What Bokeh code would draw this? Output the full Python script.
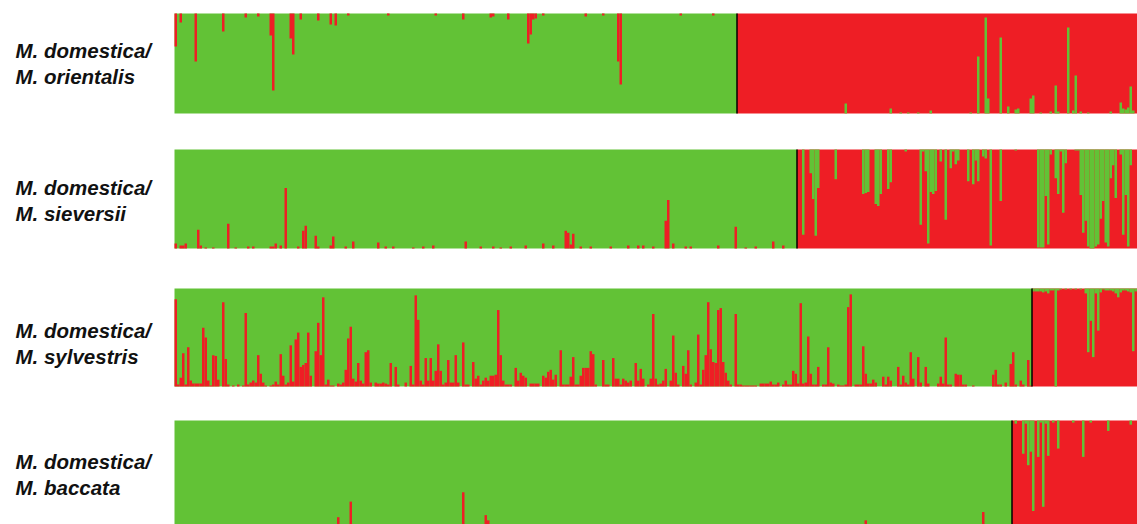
from bokeh.plotting import figure
from bokeh.models import Range1d
from bokeh.core.properties import value
from bokeh.embed import file_html
from bokeh.resources import INLINE

# ---------------- data (STRUCTURE K=2 memberships) ----------------
n_individuals = 385
pair_labels = [
    ("M. domestica/", "M. orientalis"),
    ("M. domestica/", "M. sieversii"),
    ("M. domestica/", "M. sylvestris"),
    ("M. domestica/", "M. baccata"),
]
# number of individuals assigned to the green (domestica) cluster, sorted first
cluster_split = [225, 249, 343, 335]

# admixed individuals: (index, fraction of the minority colour)
p1_green_side = [(0, .33), (2, .09), (8, .48), (19, .18), (28, .04), (33, .03), (38, .22), (39, .77),
                 (46, .25), (47, .41), (50, .06), (57, .07), (62, .11), (64, .12), (69, .02), (85, .02),
                 (104, .02), (115, .06), (126, .04), (127, .03), (133, .06), (141, .30), (142, .21),
                 (143, .06), (144, .05), (147, .02), (164, .03), (171, .02), (177, .48), (178, .71),
                 (202, .02), (215, .02)]
p1_red_side = [(268, .10), (286, .05), (290, .01), (293, .01), (297, .01), (302, .03), (318, .01),
               (321, .57), (324, .96), (325, .15), (330, .76), (333, .07), (336, .04), (337, .05),
               (342, .15), (343, .18), (346, .01), (350, .02), (352, .28), (353, .02), (357, .86),
               (359, .03), (360, .38), (362, .02), (365, .01), (374, .02), (378, .11), (379, .05),
               (380, .04), (381, .06), (382, .27), (383, .03)]

p2_green_side = [(0, .05), (2, .03), (3, .03), (4, .05), (9, .19), (10, .03), (12, .01), (15, .01),
                 (21, .25), (24, .01), (29, .02), (31, .02), (38, .02), (39, .02), (40, .05), (42, .03),
                 (44, .61), (49, .02), (51, .18), (52, .23), (56, .13), (57, .02), (62, .03), (63, .12),
                 (68, .02), (71, .07), (81, .06), (84, .02), (87, .02), (95, .01), (99, .02), (103, .03),
                 (116, .07), (122, .02), (127, .02), (130, .01), (134, .02), (140, .03), (147, .05),
                 (151, .03), (156, .18), (157, .16), (158, .04), (159, .15), (162, .02), (166, .02),
                 (174, .02), (181, .03), (185, .03), (187, .03), (191, .02), (196, .28), (197, .49),
                 (199, .05), (204, .02), (206, .02), (217, .03), (224, .22), (228, .01), (232, .02),
                 (239, .07), (243, .03)]
p2_red_side = [(251, .86), (254, .24), (255, .50), (256, .87), (257, .39), (264, .30), (275, .45),
               (276, .44), (277, .43), (280, .55), (281, .57), (282, .45), (285, .40), (286, .33),
               (292, .02), (298, .76), (299, .02), (300, .22), (301, .95), (302, .43), (303, .45),
               (304, .42), (306, .12), (308, .71), (310, .19), (311, .02), (312, .15), (313, .11),
               (317, .32), (319, .35), (320, .11), (321, .32), (323, .07), (324, .09), (326, .97),
               (330, .52), (336, .01), (345, .99), (346, .99), (347, .99), (348, .47), (349, .96),
               (350, .05), (352, .29), (353, .45), (354, .02), (355, .64), (356, .14), (360, .01),
               (361, .01), (362, .46), (363, .84), (364, .72), (365, .98), (366, 1.0), (367, 1.0),
               (368, .98), (369, .96), (370, .70), (371, .52), (372, .94), (373, .98), (374, .29),
               (375, .16), (376, .49), (378, .05), (379, .86), (380, .46), (381, .98), (382, .16)]

p3_green_side = [(0, .89), (1, .02), (2, .09), (3, .34), (4, .02), (5, .40), (6, .06), (7, .03), (8, .03),
                 (9, .03), (10, .03), (11, .60), (12, .50), (13, .06), (14, .01), (15, .32), (16, .31),
                 (17, .07), (19, .86), (20, .28), (21, .02), (23, .01), (25, .02), (27, .01), (28, .75),
                 (29, .02), (30, .04), (31, .06), (32, .04), (33, .32), (34, .13), (35, .04), (36, .01),
                 (38, .01), (39, .02), (40, .05), (41, .02), (42, .33), (43, .11), (44, .02), (45, .04),
                 (46, .42), (47, .05), (48, .48), (49, .55), (50, .20), (51, .22), (52, .24), (53, .55),
                 (54, .11), (56, .36), (57, .65), (58, .32), (59, .91), (60, .02), (61, .07), (62, .01),
                 (63, .01), (65, .03), (66, .02), (67, .04), (68, .17), (69, .49), (70, .61), (71, .08),
                 (72, .05), (73, .24), (74, .06), (75, .03), (76, .35), (77, .37), (78, .04), (80, .04),
                 (81, .03), (82, .03), (83, .04), (84, .03), (85, .02), (86, .24), (88, .20), (89, .02),
                 (92, .04), (94, .21), (95, .02), (96, .93), (97, .68), (98, .06), (99, .02), (100, .29),
                 (101, .06), (102, .29), (103, .06), (104, .16), (105, .43), (106, .16), (107, .02),
                 (108, .04), (109, .27), (110, .04), (111, .04), (112, .32), (113, .04), (115, .45),
                 (116, .02), (117, .02), (119, .25), (120, .08), (121, .11), (122, .02), (123, .06),
                 (124, .09), (125, .06), (126, .11), (127, .11), (128, .12), (129, .78), (130, .32),
                 (131, .06), (132, .02), (133, .02), (134, .02), (136, .19), (137, .06), (138, .14),
                 (139, .11), (140, .09), (142, .03), (143, .03), (144, .03), (145, .03), (147, .11),
                 (148, .09), (149, .15), (150, .17), (151, .07), (152, .12), (154, .37), (155, .02),
                 (156, .02), (157, .02), (158, .10), (159, .30), (160, .02), (161, .02), (162, .11),
                 (163, .19), (164, .19), (165, .19), (166, .36), (167, .33), (168, .02), (171, .27),
                 (172, .02), (173, .02), (175, .29), (176, .08), (177, .08), (178, .02), (179, .08),
                 (180, .06), (181, .04), (182, .06), (184, .24), (185, .06), (186, .18), (187, .08),
                 (189, .02), (190, .08), (191, .74), (192, .08), (193, .02), (194, .03), (195, .06),
                 (196, .18), (198, .06), (199, .52), (200, .14), (201, .02), (203, .21), (204, .13),
                 (205, .37), (206, .02), (208, .04), (209, .53), (210, .02), (211, .17), (212, .32),
                 (213, .86), (214, .38), (215, .25), (216, .24), (217, .78), (218, .80), (219, .25),
                 (220, .14), (221, .06), (222, .02), (224, .74), (225, .02), (226, .02), (227, .01),
                 (228, .01), (229, .01), (230, .01), (231, .01), (232, .01), (234, .03), (235, .03),
                 (236, .03), (237, .03), (238, .05), (239, .02), (240, .02), (241, .04), (243, .02),
                 (244, .06), (245, .02), (246, .02), (247, .16), (248, .13), (249, .03), (250, .85),
                 (251, .03), (252, .04), (253, .51), (254, .13), (255, .02), (256, .02), (257, .20),
                 (259, .02), (260, .02), (261, .40), (262, .04), (263, .03), (265, .02), (266, .01),
                 (267, .01), (268, .02), (269, .81), (270, .94), (272, .02), (273, .02), (274, .02),
                 (275, .41), (276, .13), (277, .03), (278, .03), (279, .07), (280, .04), (283, .10),
                 (284, .02), (285, .10), (286, .06), (289, .20), (290, .02), (291, .11), (292, .04),
                 (293, .02), (294, .35), (295, .08), (297, .30), (298, .04), (300, .20), (301, .03),
                 (305, .03), (306, .10), (307, .03), (308, .50), (309, .02), (310, .02), (312, .13),
                 (313, .12), (314, .12), (315, .02), (316, .02), (319, .01), (327, .12), (328, .17),
                 (329, .02), (330, .02), (332, .04), (334, .23), (335, .35), (336, .02), (338, .06),
                 (339, .02), (341, .27), (342, .01)]
p3_red_side = [(343, .03), (344, .03), (345, .03), (346, .03), (347, .04), (348, .03), (349, .05),
               (350, .02), (351, .02), (352, 1.0), (353, .02), (354, .01), (356, .01), (358, .01),
               (360, .01), (362, .01), (364, .05), (365, .65), (366, .33), (367, .70), (368, .05),
               (369, .43), (370, .04), (371, .01), (372, .02), (373, .02), (374, .02), (375, .03),
               (376, .05), (377, .09), (378, .04), (379, .02), (380, .02), (381, .03), (382, .04),
               (383, .64), (384, .03)]

p4_green_side = [(65, .07), (70, .22), (115, .31), (124, .09), (125, .04), (276, .04), (323, .12)]
p4_red_side = [(336, .03), (339, .32), (340, .03), (341, .43), (342, .30), (343, .87), (345, .35),
               (346, .02), (347, .83), (348, .03), (349, .34), (351, .02), (353, .27), (359, .02),
               (363, .35), (366, .02), (373, .10), (382, .04)]

green_side = [p1_green_side, p2_green_side, p3_green_side, p4_green_side]
red_side = [p1_red_side, p2_red_side, p3_red_side, p4_red_side]

# ---------------- layout / style ----------------
GREEN = "#62C236"
RED = "#EE1E25"
PX_PER_IND = 2.5          # screen pixels per individual
W, H = 1137, 524
LEFT_PX = 174             # room for the labels
PANEL_TOP = [0.13, 1.49, 2.88, 4.20]      # in panel-height units (1 unit = 100 px)
PANEL_H = [1.00, 0.99, 0.98, 1.04]
GREEN_ON_BOTTOM = [True, False, False, False]
LABEL_OFF = [0.37, 0.38, 0.42, 0.41]
LINE_GAP = 0.26

p = figure(width=W, height=H,
           x_range=Range1d(-LEFT_PX / PX_PER_IND, (W - LEFT_PX) / PX_PER_IND),
           y_range=Range1d(H / 100.0, 0),
           output_backend="svg", toolbar_location=None,
           x_axis_type=None, y_axis_type=None,
           min_border=0, outline_line_color=None)
p.background_fill_color = "white"
p.border_fill_color = "white"

for k in range(4):
    top = PANEL_TOP[k]
    h = PANEL_H[k]
    bot = top + h
    split = cluster_split[k]
    # dominant colour blocks of the two clusters
    p.quad(left=[0, split], right=[split, n_individuals], top=[top, top], bottom=[bot, bot],
           fill_color=[GREEN, RED], line_color=None)
    # red minority bars inside the green cluster
    gi = [i + 0.5 for i, q in green_side[k]]
    gq = [q for i, q in green_side[k]]
    if GREEN_ON_BOTTOM[k]:
        tops = [top] * len(gq)
        bots = [top + q * h for q in gq]
    else:
        tops = [bot - q * h for q in gq]
        bots = [bot] * len(gq)
    p.vbar(x=gi, width=1, top=tops, bottom=bots, fill_color=RED, line_color=None)
    # green minority bars inside the red cluster
    ri = [i + 0.5 for i, q in red_side[k]]
    rq = [q for i, q in red_side[k]]
    if GREEN_ON_BOTTOM[k]:
        tops = [bot - q * h for q in rq]
        bots = [bot] * len(rq)
    else:
        tops = [top] * len(rq)
        bots = [top + q * h for q in rq]
    p.vbar(x=ri, width=1, top=tops, bottom=bots, fill_color=GREEN, line_color=None)
    # cluster boundary
    p.segment(x0=[split], y0=[top], x1=[split], y1=[bot], line_color="black", line_width=1.5)
    # label
    lx = (15 - LEFT_PX) / PX_PER_IND
    p.text(x=[lx, lx], y=[top + LABEL_OFF[k], top + LABEL_OFF[k] + LINE_GAP],
           text=list(pair_labels[k]), text_font=value("Liberation Sans"),
           text_font_style="bold italic", text_font_size="20.5px",
           text_color="#111111", text_baseline="middle", text_align="left")

open("out.html", "w").write(file_html(p, INLINE))
